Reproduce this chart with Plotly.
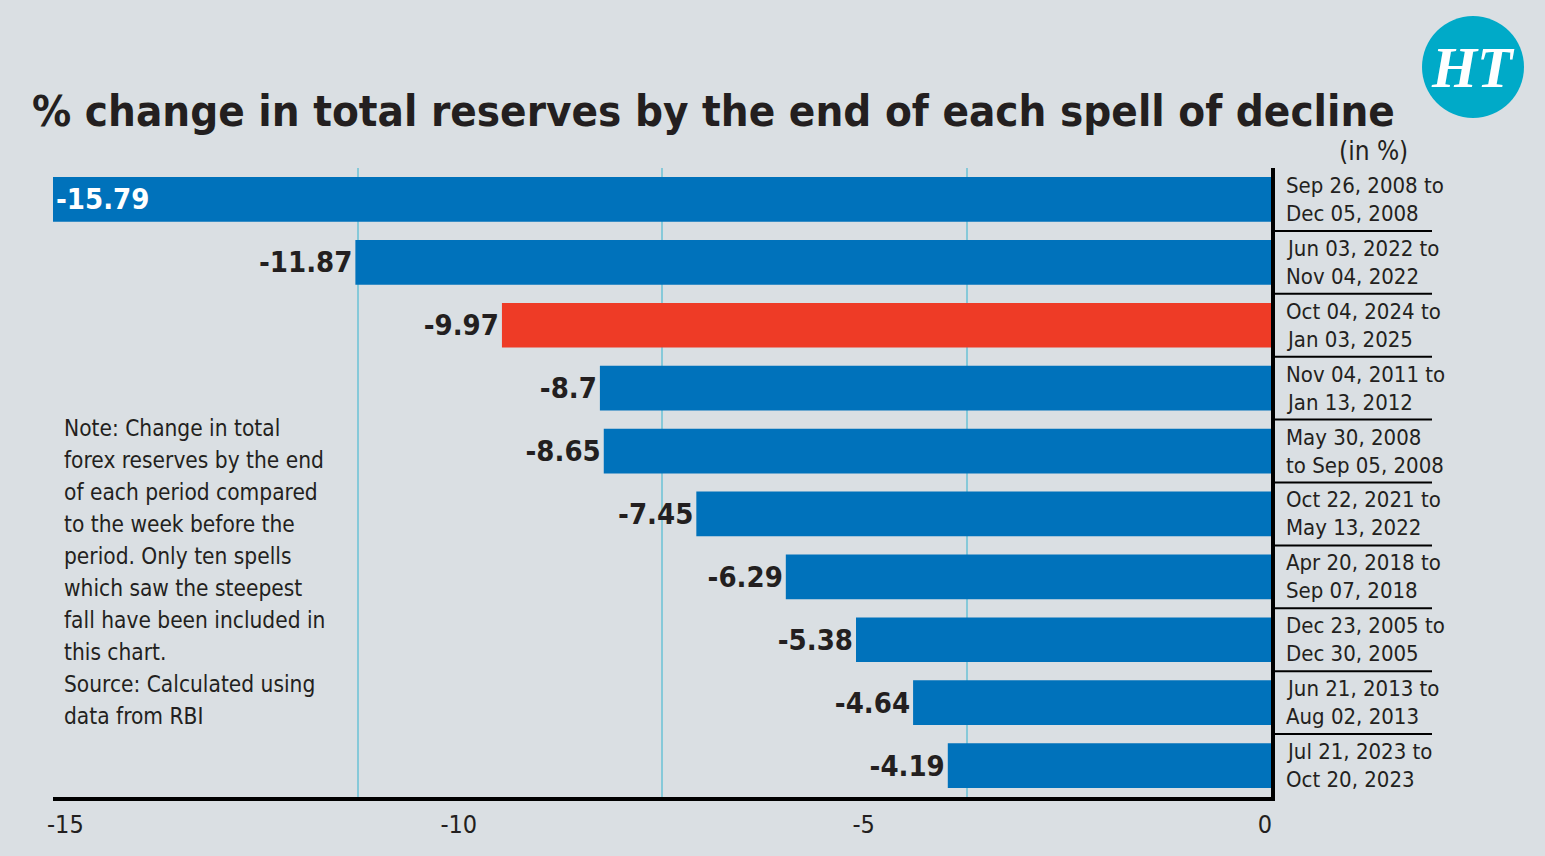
import plotly.graph_objects as go

# ---- data ----
periods = [
    ["Sep 26, 2008 to", "Dec 05, 2008"],
    ["Jun 03, 2022 to", "Nov 04, 2022"],
    ["Oct 04, 2024 to", "Jan 03, 2025"],
    ["Nov 04, 2011 to", "Jan 13, 2012"],
    ["May 30, 2008", "to Sep 05, 2008"],
    ["Oct 22, 2021 to", "May 13, 2022"],
    ["Apr 20, 2018 to", "Sep 07, 2018"],
    ["Dec 23, 2005 to", "Dec 30, 2005"],
    ["Jun 21, 2013 to", "Aug 02, 2013"],
    ["Jul 21, 2023 to", "Oct 20, 2023"],
]
values = [-15.79, -11.87, -9.97, -8.7, -8.65, -7.45, -6.29, -5.38, -4.64, -4.19]
highlight = "Oct 04, 2024 to"
tick_text = ["-15", "-10", "-5", "0"]
tick_pos = [-15.63, -10.53, -5.28, -0.08]
note_lines = [
    "Note: Change in total",
    "forex reserves by the end",
    "of each period compared",
    "to the week before the",
    "period. Only ten spells",
    "which saw the steepest",
    "fall have been included in",
    "this chart.",
    "Source: Calculated using",
    "data from RBI",
]
title = "% change in total reserves by the end of each spell of decline"

# ---- style ----
BG = "#dadfe3"
BLUE = "#0072bb"
RED = "#ee3b26"
DARK = "#231f20"
GRID = "#86c9d9"
FONT = "DejaVu Sans Condensed, Liberation Sans Narrow, Roboto, sans-serif"

W, H = 1545, 856
L, R, T, B = 53, 274, 168, 59
pw, ph = W - L - R, H - T - B

def px_x(px):
    return (px - L) / pw

def px_y(py):
    return (H - B - py) / ph

n = len(values)
cats = list(range(n))
colors = [RED if p[0] == highlight else BLUE for p in periods]
xmin = min(values)
positions = ["inside" if v == xmin else "outside" for v in values]
texts = [f"{v:g}" for v in values]

fig = go.Figure()
fig.add_trace(go.Bar(
    x=values, y=cats, orientation="h",
    marker=dict(color=colors, line=dict(width=0)),
    width=0.71,
    text=texts, textposition=positions, insidetextanchor="end",
    constraintext="none", cliponaxis=False,
    insidetextfont=dict(family=FONT, size=29, color="white", weight="bold"),
    outsidetextfont=dict(family=FONT, size=29, color=DARK, weight="bold"),
    textangle=0, hoverinfo="skip",
))
# invisible trace so the tick-label axis is drawn
fig.add_trace(go.Scatter(x=[xmin, 0], y=[0, 0], xaxis="x2", yaxis="y",
                         mode="markers", marker=dict(opacity=0, size=1),
                         hoverinfo="skip", showlegend=False))

grid_vals = [xmin * k / 4 for k in range(5)]

fig.update_layout(
    width=W, height=H,
    paper_bgcolor=BG, plot_bgcolor=BG,
    margin=dict(l=L, r=R, t=T, b=B, pad=0),
    showlegend=False,
    font=dict(family=FONT, color=DARK),
    xaxis=dict(range=[xmin, 0], tickmode="array", tickvals=grid_vals,
               showticklabels=False, showgrid=True, gridcolor=GRID, gridwidth=2,
               zeroline=False, showline=True, linecolor="black", linewidth=4,
               ticks="", fixedrange=True),
    xaxis2=dict(range=[xmin, 0], overlaying="x", side="bottom", anchor="y",
                tickmode="array", tickvals=tick_pos, ticktext=tick_text,
                showgrid=False, zeroline=False, showline=False, ticks="",
                ticklabelstandoff=10,
                tickfont=dict(family=FONT, size=25, color=DARK), fixedrange=True),
    yaxis=dict(range=[n - 0.5, -0.5], showticklabels=False, showgrid=False,
               zeroline=False, showline=True, side="right", linecolor="black",
               linewidth=4, ticks="", fixedrange=True),
)

annotations = []
# title
annotations.append(dict(text=f"<b>{title}</b>", xref="paper", yref="paper",
                        x=px_x(30), y=px_y(111), xanchor="left", yanchor="middle",
                        showarrow=False, font=dict(family=FONT, size=43.5, color=DARK)))
annotations.append(dict(text="(in %)", xref="paper", yref="paper",
                        x=px_x(1373), y=px_y(151), xanchor="center", yanchor="middle",
                        showarrow=False, font=dict(family=FONT, size=26, color=DARK)))
# category labels
for i, (l1, l2) in enumerate(periods):
    for line, shift in ((l1, 14), (l2, -14)):
        annotations.append(dict(text=line, xref="paper", yref="y", x=px_x(1284), y=i,
                                yshift=shift, xanchor="left", yanchor="middle",
                                showarrow=False, font=dict(family=FONT, size=22, color=DARK)))
# note
for j, line in enumerate(note_lines):
    annotations.append(dict(text=line, xref="paper", yref="paper", x=px_x(62),
                            y=px_y(428 + 32 * j), xanchor="left", yanchor="middle",
                            showarrow=False, font=dict(family=FONT, size=22.5, color=DARK)))
# logo text
annotations.append(dict(text="<b><i>HT</i></b>", xref="paper", yref="paper",
                        x=px_x(1473), y=px_y(67), xanchor="center", yanchor="middle",
                        showarrow=False,
                        font=dict(family="Liberation Serif, DejaVu Serif, serif", size=58, color="white")))
fig.update_layout(annotations=annotations)

shapes = []
# separators between category labels
for i in range(n - 1):
    shapes.append(dict(type="line", xref="paper", yref="y", x0=px_x(1275), x1=px_x(1432),
                       y0=i + 0.5, y1=i + 0.5, line=dict(color="black", width=2)))
# logo circle
shapes.append(dict(type="circle", xref="paper", yref="paper", xsizemode="pixel",
                   ysizemode="pixel", xanchor=px_x(1473), yanchor=px_y(67),
                   x0=-51, x1=51, y0=-51, y1=51, fillcolor="#00aac8",
                   line=dict(width=0), layer="below"))
fig.update_layout(shapes=shapes)

fig.write_html("out.html")
